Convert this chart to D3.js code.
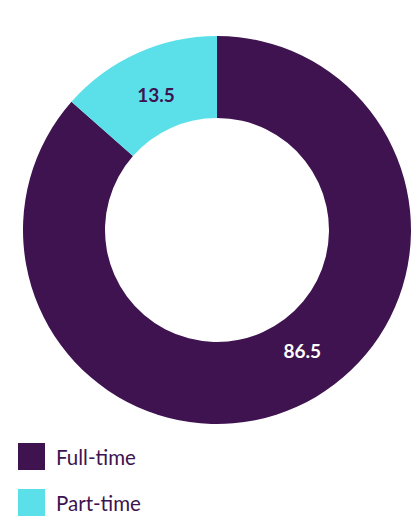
<!DOCTYPE html>
<html lang="en">
<head>
<meta charset="UTF-8">
<title>Employment type</title>
<script src="https://cdn.jsdelivr.net/npm/d3@7"></script>
<style>
  body { margin: 0; background: #fff; font-family: Lato, "Open Sans", sans-serif; }
  svg { display: block; }
</style>
</head>
<body>
<svg id="chart" width="414" height="516"></svg>
<script>
// data
var categories = ["Full-time", "Part-time"];
var values = [86.5, 13.5];
var colors = ["#3e1350", "#5be0e9"];
var labelColors = ["#ffffff", "#3e1350"];
// label angle shift (radians) per slice, big slice label sits off-centre
var labelShift = [-0.19, 0];

var svg = d3.select("#chart");
var cx = 217, cy = 230, outerR = 194, innerR = 112;

var data = categories.map(function(c, i){ return {name: c, value: values[i], i: i}; });

var pie = d3.pie().sort(null).value(function(d){ return d.value; });
var arc = d3.arc().innerRadius(innerR).outerRadius(outerR);
var labelArc = d3.arc().innerRadius(innerR + 36).outerRadius(innerR + 36);

var g = svg.append("g").attr("transform", "translate(" + cx + "," + cy + ")");

var arcs = pie(data);

g.selectAll("path").data(arcs).enter().append("path")
  .attr("d", arc)
  .attr("fill", function(d){ return colors[d.data.i]; });

g.selectAll("text").data(arcs).enter().append("text")
  .attr("transform", function(d){
      var mid = (d.startAngle + d.endAngle) / 2 + labelShift[d.data.i];
      var p = labelArc.centroid({startAngle: mid, endAngle: mid});
      return "translate(" + p[0] + "," + p[1] + ")";
  })
  .attr("text-anchor", "middle")
  .attr("dy", "0.35em")
  .attr("fill", function(d){ return labelColors[d.data.i]; })
  .style("font-size", "19px")
  .style("font-weight", "bold")
  .text(function(d){ return d.data.value; });

// legend
var legend = svg.selectAll("g.legend").data(data).enter().append("g")
  .attr("class", "legend")
  .attr("transform", function(d, i){ return "translate(18," + (443 + i * 46) + ")"; });

legend.append("rect")
  .attr("width", 27).attr("height", 27)
  .attr("fill", function(d){ return colors[d.i]; });

legend.append("text")
  .attr("x", 38).attr("y", 22)
  .attr("fill", "#3e1350")
  .style("font-size", "20.5px")
  .text(function(d){ return d.name; });
</script>
</body>
</html>
